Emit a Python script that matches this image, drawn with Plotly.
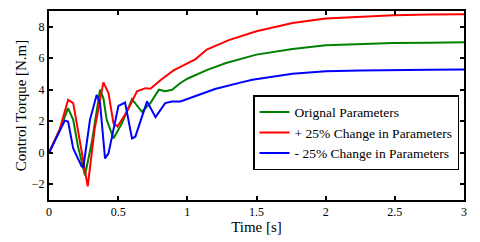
import plotly.graph_objects as go

# Original parameters (green)
t_orig = [0, 0.078, 0.138, 0.175, 0.21, 0.26, 0.308, 0.369, 0.393, 0.417, 0.466, 0.527, 0.6, 0.672,
          0.733, 0.794, 0.84, 0.89, 0.95, 1.0, 1.14, 1.28, 1.5, 1.76, 2.0, 2.25, 2.49, 2.75, 3.0]
y_orig = [0, 1.45, 2.83, 2.09, 0.38, -1.43, 0.6, 4.0, 3.47, 2.09, 0.91, 1.87, 3.4, 2.6,
          3.15, 4.0, 3.9, 4.0, 4.43, 4.7, 5.25, 5.7, 6.23, 6.59, 6.82, 6.92, 6.97, 6.99, 7.01]

# +25% change (red)
t_plus = [0, 0.078, 0.138, 0.175, 0.28, 0.33, 0.393, 0.43, 0.466, 0.495, 0.563, 0.636, 0.697,
          0.733, 0.81, 0.9, 0.95, 1.06, 1.14, 1.3, 1.5, 1.76, 2.0, 2.25, 2.49, 2.75, 3.0]
y_plus = [0, 1.5, 3.36, 3.15, -2.13, 1.5, 4.47, 3.79, 1.87, 1.66, 2.6, 3.9, 4.1,
          4.06, 4.64, 5.23, 5.45, 5.95, 6.55, 7.15, 7.71, 8.24, 8.52, 8.65, 8.73, 8.77, 8.79]

# -25% change (blue)
t_minus = [0, 0.114, 0.138, 0.175, 0.235, 0.248, 0.296, 0.345, 0.369, 0.405, 0.43, 0.502, 0.55,
           0.6, 0.624, 0.709, 0.77, 0.84, 0.89, 0.95, 1.05, 1.2, 1.39, 1.47, 1.76, 2.0, 2.25, 2.49, 2.75, 3.0]
y_minus = [0, 2.04, 1.98, 0.28, -0.85, -0.94, 2.09, 3.68, 3.15, -0.36, -0.04, 2.98, 3.19,
           0.91, 1.02, 3.26, 2.26, 3.15, 3.26, 3.26, 3.57, 4.05, 4.47, 4.64, 5.02, 5.17, 5.22, 5.26, 5.27, 5.28]

labels = ["Orignal Parameters", "+ 25% Change in Parameters", "- 25% Change in Parameters"]
x_ticks = [0, 0.5, 1, 1.5, 2, 2.5, 3]
x_tick_text = ["0", "0.5", "1", "1.5", "2", "2.5", "3"]
y_ticks = [-2, 0, 2, 4, 6, 8]

font_family = "Liberation Serif"
fig = go.Figure()
fig.add_trace(go.Scatter(x=t_orig, y=y_orig, mode="lines", name=labels[0],
                         line=dict(color="#008000", width=2)))
fig.add_trace(go.Scatter(x=t_plus, y=y_plus, mode="lines", name=labels[1],
                         line=dict(color="#ff0000", width=2)))
fig.add_trace(go.Scatter(x=t_minus, y=y_minus, mode="lines", name=labels[2],
                         line=dict(color="#0000ff", width=2)))

axis_common = dict(showgrid=False, zeroline=False, showline=True, linecolor="black", linewidth=2,
                   mirror="ticks", ticks="inside", ticklen=4, tickwidth=2, tickcolor="black",
                   automargin=False,
                   tickfont=dict(family=font_family, size=12, color="black"))
fig.update_xaxes(range=[0, 3], tickvals=x_ticks, ticktext=x_tick_text,
                 title=dict(text="Time [s]", font=dict(family=font_family, size=15, color="black"), standoff=0),
                 **axis_common)
fig.update_yaxes(range=[-3, 9], tickvals=y_ticks,
                 title=dict(text="Control Torque [N.m]", font=dict(family=font_family, size=15, color="black"), standoff=2),
                 **axis_common)

fig.update_layout(
    width=480, height=242,
    margin=dict(l=49, r=16, t=11, b=42),
    plot_bgcolor="white", paper_bgcolor="white",
    font=dict(family=font_family, color="black"),
    legend=dict(x=0.988, y=0.555, xanchor="right", yanchor="top",
                bgcolor="white", bordercolor="black", borderwidth=1.5,
                font=dict(family=font_family, size=13.5, color="black"),
                itemwidth=30, tracegroupgap=0),
)
fig.write_html("out.html", config={"displayModeBar": False},
               post_script="document.body.style.margin='0';document.body.style.padding='0';")
